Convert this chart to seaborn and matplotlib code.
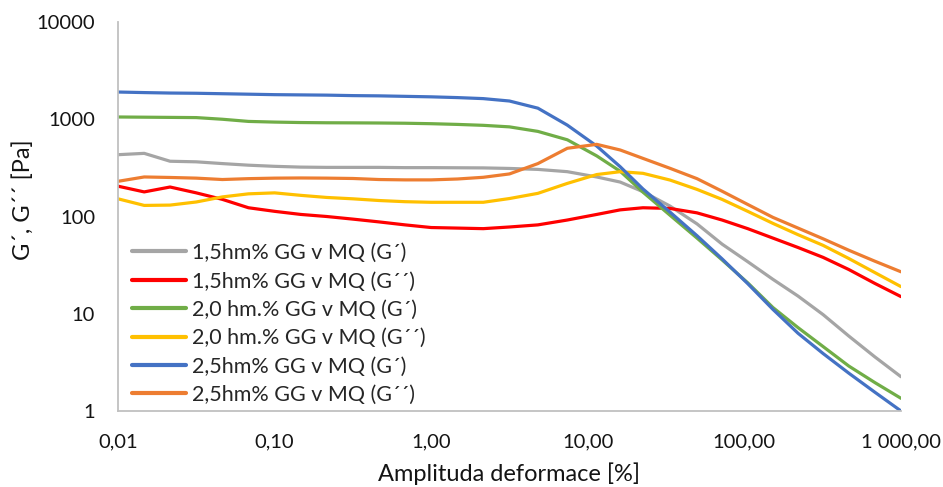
import pandas as pd
import numpy as np
import matplotlib
matplotlib.use('Agg')
import matplotlib.pyplot as plt
import seaborn as sns

# amplitude of deformation [%]
strain = [0.01, 0.0147, 0.0215, 0.0316, 0.0464, 0.0681, 0.1, 0.147, 0.215, 0.316,
          0.464, 0.681, 1.0, 1.47, 2.15, 3.16, 4.8, 7.4, 11.4, 16.1,
          22.5, 33.5, 49.8, 72.0, 105.0, 152.0, 220.0, 318.0, 464.0, 681.0, 1000.0]

g1_5_storage = [432, 446, 370, 365, 350, 337, 328, 322, 320, 320,
                320, 318, 318, 317, 316, 312, 305, 289, 255, 226,
                180, 128, 84, 52, 34.3, 22.6, 15.2, 9.8, 5.9, 3.6, 2.25]
g1_5_loss = [205, 179, 201, 175, 150, 123, 113, 105, 100, 94,
             88, 82, 77, 76, 75, 78, 82, 92, 105, 117,
             123, 121, 109, 92, 75, 60, 48, 38, 28.5, 20.5, 15]
g2_0_storage = [1055, 1050, 1045, 1040, 1000, 950, 935, 925, 920, 918,
                915, 910, 900, 885, 866, 835, 750, 615, 420, 292,
                178, 103, 60, 35.8, 20.8, 11.6, 7.2, 4.6, 2.9, 1.96, 1.35]
g2_0_loss = [152, 130, 131, 141, 159, 171, 175, 165, 157, 152,
             146, 142, 140, 140, 140, 153, 173, 219, 270, 289,
             278, 237, 190, 150, 113, 85, 65, 50.5, 37, 26.5, 19]
g2_5_storage = [1905, 1880, 1860, 1850, 1830, 1810, 1790, 1780, 1770, 1750,
                1740, 1720, 1700, 1670, 1630, 1540, 1300, 870, 530, 325,
                192, 111, 63.5, 36.7, 20.4, 11.1, 6.3, 3.9, 2.45, 1.56, 1.0]
g2_5_loss = [230, 255, 252, 248, 240, 245, 248, 249, 248, 246,
             240, 238, 238, 243, 253, 274, 350, 503, 552, 483,
             396, 313, 245, 182, 133, 98, 76, 59, 45, 34.7, 27]

labels = ['1,5hm% GG v MQ (G´)', '1,5hm% GG v MQ (G´´)',
          '2,0 hm.% GG v MQ (G´)', '2,0 hm.% GG v MQ (G´´)',
          '2,5hm% GG v MQ (G´)', '2,5hm% GG v MQ (G´´)']
colors = ['#A5A5A5', '#FF0000', '#70AD47', '#FFC000', '#4472C4', '#ED7D31']

series = [g1_5_storage, g1_5_loss, g2_0_storage, g2_0_loss, g2_5_storage, g2_5_loss]
df = pd.concat([pd.DataFrame({'strain': strain, 'modulus': s, 'sample': lab})
                for lab, s in zip(labels, series)], ignore_index=True)

sns.set_style('white')
plt.rcParams['font.family'] = ['Lato', 'DejaVu Sans']

W, H = 943, 487
fig = plt.figure(figsize=(W / 100, H / 100), dpi=100)
ax = fig.add_axes([118 / W, 1 - 411 / H, 783 / W, 389 / H])

sns.lineplot(data=df, x='strain', y='modulus', hue='sample', hue_order=labels,
             palette=colors, linewidth=2.3, sort=False, estimator=None, ax=ax,
             solid_joinstyle='round', solid_capstyle='round')

ax.set_xscale('log')
ax.set_yscale('log')
ax.set_xlim(0.01, 1000)
ax.set_ylim(1, 10000)

ax.set_xticks([0.01, 0.1, 1, 10, 100, 1000],
              ['0,01', '0,10', '1,00', '10,00', '100,00', '1 000,00'])
ax.set_yticks([1, 10, 100, 1000, 10000], ['1', '10', '100', '1000', '10000'])
ax.minorticks_off()
ax.tick_params(axis='both', direction='inout', length=12, width=1.3,
               color='#C0C0C0', labelsize=14.5, labelcolor='#141414')
ax.tick_params(axis='x', pad=10)
ax.tick_params(axis='y', pad=10.5)

for side in ['top', 'right']:
    ax.spines[side].set_visible(False)
for side in ['left', 'bottom']:
    ax.spines[side].set_color('#C0C0C0')
    ax.spines[side].set_linewidth(1.3)

ax.set_xlabel('Amplituda deformace [%]', fontsize=17, color='#141414')
ax.set_ylabel('G´, G´´ [Pa]', fontsize=17, color='#141414')
ax.xaxis.set_label_coords(0.5, -0.132)
ax.yaxis.set_label_coords(-0.107, 0.542)

# legend: rows centred at y = 253 px, pitch about 28.4 px
leg_fs = 15.5
leg_kw = dict(loc='upper left', frameon=False, fontsize=leg_fs, handlelength=2.5,
              handletextpad=0.3, borderpad=0, borderaxespad=0)
leg = ax.legend(bbox_to_anchor=(0.018, 0.44), labelspacing=0.2, **leg_kw)
fig.canvas.draw()
r = fig.canvas.get_renderer()
row_h = max(t.get_window_extent(r).height for t in leg.get_texts())
fs_px = leg_fs * 100 / 72
spacing = (28.4 - row_h) / fs_px
top_px = 253 - row_h / 2
leg = ax.legend(bbox_to_anchor=(14 / 783, (411 - top_px) / 389),
                labelspacing=spacing, **leg_kw)
for line in leg.get_lines():
    line.set_linewidth(3)

fig.savefig('out.png', dpi=100)
